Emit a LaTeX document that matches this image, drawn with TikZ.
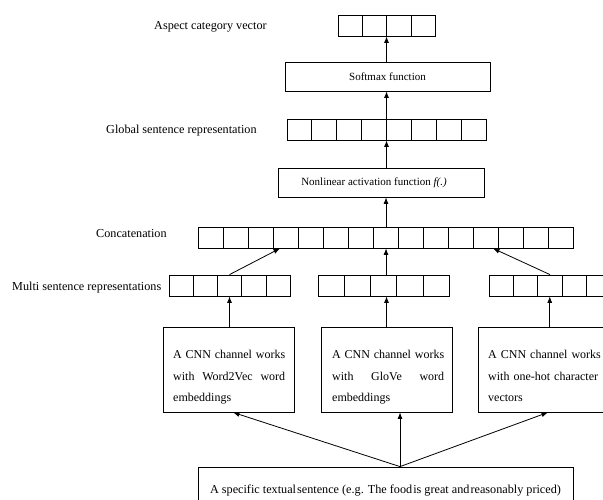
\documentclass[tikz,border=0pt]{standalone}
\usepackage{fontspec}
\setmainfont{Liberation Serif}
\usetikzlibrary{arrows.meta,calc}

\tikzset{
  box/.style={draw, line width=0.8pt, inner sep=0pt},
  vec/.style={draw, line width=0.8pt, minimum height=21pt, inner sep=0pt},
  lbl/.style={anchor=base west, inner sep=0pt, font=\fontsize{12.2}{14}\selectfont},
  fn/.style={box, minimum height=29pt, font=\fontsize{11}{13}\selectfont},
  cnn/.style={box, minimum width=131pt, minimum height=85pt},
  cnntext/.style={anchor=north west, inner sep=0pt, text width=118pt, align=left,
                  font=\fontsize{12}{21.5}\selectfont},
  arr/.style={-{Latex[length=6.5pt,width=5pt]}, line width=0.8pt},
}

% split a vector node into equal cells
\newcommand\vcells[2]{%
  \pgfmathtruncatemacro\nlast{#2-1}%
  \foreach \k in {1,...,\nlast}
    \draw[line width=0.8pt] ($(#1.south west)!\k/#2!(#1.south east)$) --
                            ($(#1.north west)!\k/#2!(#1.north east)$);}
% one justified line of a channel description (words split by \hfill)
\newcommand\jline[1]{\leavevmode\hbox to 112pt{#1}}

\begin{document}
\begin{tikzpicture}[x=1pt, y=-1pt]
  \clip (0,0) rectangle (603,499);

  % vectors and processing boxes
  \node[vec, minimum width=97pt]  (av) at (386.5,25.5) {};
  \node[fn,  minimum width=205pt] (sm) at (387.5,76.5) {Softmax function};
  \node[vec, minimum width=199pt] (gv) at (386.5,129.5) {};
  \node[fn,  minimum width=206pt] (nl) at (381,182.5)
       {Nonlinear activation function \textit{f(.)}\hspace*{14pt}};
  \node[vec, minimum width=375pt] (cc) at (386,237.5) {};
  \node[vec, minimum width=121pt] (m1) at (229.5,285.5) {};
  \node[vec, minimum width=131pt] (m2) at (383.5,285.5) {};
  \node[vec, minimum width=121.5pt] (m3) at (549.75,285.5) {};

  \vcells{av}{4}
  \vcells{gv}{8}
  \vcells{cc}{15}
  \vcells{m1}{5}
  \vcells{m2}{5}
  \vcells{m3}{5}

  % CNN channels
  \node[cnn] (c1) at (228.5,369.5) {};
  \node[cnn] (c2) at (386.5,369.5) {};
  \node[cnn] (c3) at (543.5,369.5) {};
  \node[cnntext] (t1) at (173,350)
    {\jline{A\hfill CNN\hfill channel\hfill works}\\
     \jline{with\hfill Word2Vec\hfill word}\\
     \mbox{embeddings}};
  \node[cnntext] (t2) at (332,350)
    {\jline{A\hfill CNN\hfill channel\hfill works}\\
     \jline{with\hfill GloVe\hfill word}\\
     \mbox{embeddings}};
  \node[cnntext] (t3) at (488,350)
    {\mbox{A CNN channel works}\\
     \mbox{with one-hot character}\\
     \mbox{vectors}};

  % input sentence
  \node[box, minimum width=375pt, minimum height=48pt,
        font=\fontsize{12.2}{14}\selectfont] (st) at (385.5,491)
    {A specific textual\hspace{1pt}sentence (e.g. The food\hspace{1pt}is great and\hspace{1pt}reasonably priced)};

  % side labels
  \node[lbl] (l1) at (154,29)  {Aspect category vector};
  \node[lbl] (l2) at (106,133) {Global sentence representation};
  \node[lbl] (l3) at (96,237)  {Concatenation};
  \node[lbl] (l4) at (12,290)  {Multi sentence representations};

  % connectors
  \coordinate (src) at ($(st.north)+(14.5,0)$);
  \draw[arr] (src) -- ($(c1.south)+(4.5,0)$);
  \draw[arr] (src) -- (src |- c2.south);
  \draw[arr] (src) -- ($(c3.south)+(4.5,0)$);

  \draw[arr] (m1.south |- c1.north) -- (m1.south);
  \draw[arr] (c2.north) -- (c2.north |- m2.south);
  \draw[arr] (m3.south |- c3.north) -- (m3.south);

  \draw[arr] (m1.north) -- ($(cc.south)+(-106,0)$);
  \draw[arr] (cc.south |- m2.north) -- (cc.south);
  \draw[arr] ($(m3.north)+(0.25,0)$) -- ($(cc.south)+(107,0)$);

  \draw[arr] (cc.north) -- (cc.north |- nl.south);
  \draw[arr] (gv.south |- nl.north) -- (gv.south);
  \draw[arr] (gv.north) -- (gv.north |- sm.south);
  \draw[arr] (av.south |- sm.north) -- (av.south);
\end{tikzpicture}
\end{document}
